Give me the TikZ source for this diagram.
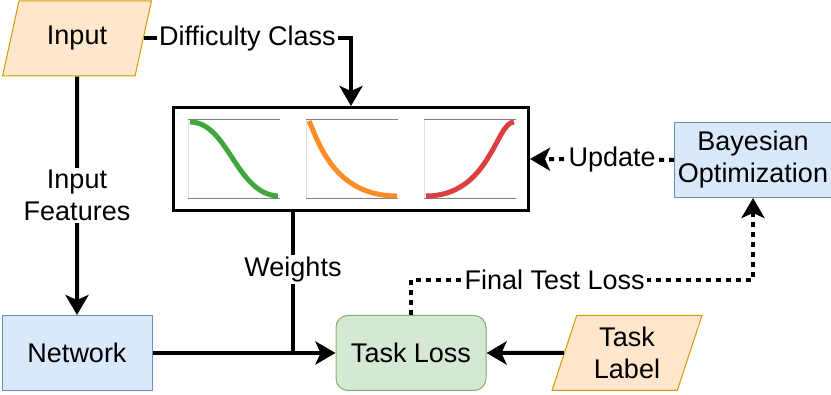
\documentclass[tikz,border=0pt]{standalone}
\usepackage{fontspec}
\setmainfont{Liberation Sans}
\usetikzlibrary{positioning,arrows.meta,shapes.geometric}
\definecolor{ioorange}{HTML}{FFE6CC}
\definecolor{ioorangeline}{HTML}{D79B00}
\definecolor{procblue}{HTML}{DAE8FC}
\definecolor{procblueline}{HTML}{6C8EBF}
\definecolor{lossgreen}{HTML}{D5E8D4}
\definecolor{lossgreenline}{HTML}{82B366}
\definecolor{curvegreen}{HTML}{3FA73B}
\definecolor{curveorange}{HTML}{FF8C26}
\definecolor{curvered}{HTML}{DB3E3E}
\tikzset{
  flowarrow/.style={-{Stealth[length=20pt,width=23pt,inset=5pt]}, line width=4pt},
  flowline/.style={line width=4pt},
  dotarrow/.style={flowarrow, dash pattern=on 5pt off 5pt},
  dataio/.style={trapezium, trapezium left angle=73, trapezium right angle=107, trapezium stretches=true, draw=ioorangeline, fill=ioorange, line width=1pt, minimum width=150pt, minimum height=75pt, align=center},
  procbox/.style={draw=procblueline, fill=procblue, line width=1pt, minimum width=150pt, minimum height=75pt, align=center},
  lossbox/.style={draw=lossgreenline, fill=lossgreen, rounded corners=12pt, line width=1pt, minimum width=150pt, minimum height=75pt, align=center},
  curvebox/.style={draw, line width=3pt, minimum width=355pt, minimum height=103pt},
  relabel/.style={fill=white, inner sep=2pt, align=center},
  panelline/.style={draw=black!50, line width=1pt},
  panelfaint/.style={draw=black!12, line width=1pt},
  sigcurve/.style={line width=5pt}
}

\begin{document}
\begin{tikzpicture}[x=1pt, y=-1pt, every node/.style={font=\fontsize{27}{32}\selectfont}]
  \useasboundingbox (0,0) rectangle (831,395);
  \node[dataio] (input) at (77,38.5) {Input};
  \node[procbox] (network) at (77,353) {Network};
  \node[lossbox] (loss) at (411,353) {Task Loss};
  \node[dataio] (label) at (627,353) {Task\\Label};
  \node[procbox] (bayes) at (753,160) {Bayesian\\Optimization};
  \node[curvebox] (curves) at (351,159) {};
  % weighting curves
  \foreach \px in {188,306,424} {
    \draw[panelfaint] (\px,120) -- (\px,199);
    \draw[panelline] (\px,120) -- ++(92,0);
    \draw[panelline] (\px,199) -- ++(92,0);
  }
  \draw[sigcurve, curvegreen] (190,122) .. controls (228,122) and (236,194) .. (278,196);
  \draw[sigcurve, curveorange] (309,121) .. controls (318,140) and (333,196) .. (397,196);
  \draw[sigcurve, curvered] (426,196) .. controls (490,196) and (496,122) .. (514,122);
  % connectors
  \draw[flowarrow] (input) -- node[relabel]{Input\\Features} (network);
  \draw[flowarrow] (input.east) -| node[relabel, pos=0.25]{Difficulty Class} (curves.north);
  \coordinate (wjoin) at (293,353);
  \draw[flowline] (curves.south -| wjoin) -- node[relabel, pos=0.41]{Weights} (wjoin);
  \draw[flowarrow] (network) -- (loss);
  \draw[flowarrow] (label) -- (loss);
  \draw[dotarrow] (bayes.west) -- node[relabel, pos=0.43]{Update} (curves.east);
  \coordinate (ftl) at (411,280);
  \draw[dotarrow] (loss.north) -- (ftl) -| node[relabel, pos=0.21]{Final Test Loss} (bayes.south);
\end{tikzpicture}
\end{document}
